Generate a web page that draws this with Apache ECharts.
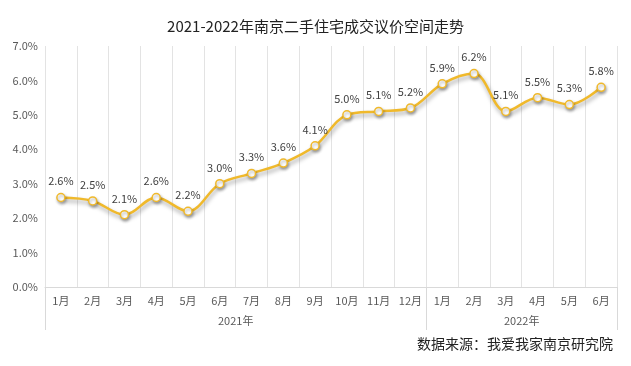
<!DOCTYPE html>
<html>
<head>
<meta charset="utf-8">
<script src="https://cdn.jsdelivr.net/npm/echarts@6/dist/echarts.min.js"></script>
<style>
html,body{margin:0;padding:0;background:#fff;}
#chart{width:631px;height:366px;}
</style>
</head>
<body>
<div id="chart"></div>
<script>
const titleText = '2021-2022年南京二手住宅成交议价空间走势';
const sourceText = '数据来源：我爱我家南京研究院';
const months = ['1月','2月','3月','4月','5月','6月','7月','8月','9月','10月','11月','12月','1月','2月','3月','4月','5月','6月'];
const values = [2.6, 2.5, 2.1, 2.6, 2.2, 3.0, 3.3, 3.6, 4.1, 5.0, 5.1, 5.2, 5.9, 6.2, 5.1, 5.5, 5.3, 5.8];
const years = ['2021年', '2022年'];
const yearSpans = [12, 6];
const yTicks = [0, 1, 2, 3, 4, 5, 6, 7];

// build the second-level (year) axis: boundary points 0..N
const N = months.length;
const yearAxisData = new Array(N + 1).fill('');
const boundaryIdx = [0];
const labelIdx = [];
let acc = 0;
yearSpans.forEach((s, i) => {
  const mid = acc + s / 2;
  yearAxisData[mid] = years[i];
  labelIdx.push(mid);
  acc += s;
  boundaryIdx.push(acc);
});

const FONT = '"Noto Sans CJK SC", "Noto Sans", sans-serif';
const lineColor = '#F0B92B';

const chart = echarts.init(document.getElementById('chart'), null, {renderer: 'canvas'});
chart.setOption({
  backgroundColor: '#ffffff',
  animation: false,
  textStyle: {fontFamily: FONT},
  title: [
    {
      text: titleText,
      left: 'center',
      top: 14,
      textStyle: {fontSize: 15, fontWeight: 'normal', color: '#222222', fontFamily: FONT}
    },
    {
      text: sourceText,
      right: 13,
      top: 332,
      textStyle: {fontSize: 14, fontWeight: 'normal', color: '#222222', fontFamily: FONT}
    }
  ],
  grid: {left: 45, right: 14, top: 46, bottom: 79, containLabel: false},
  xAxis: [
    {
      type: 'category',
      data: months,
      boundaryGap: true,
      position: 'bottom',
      axisLine: {show: true, lineStyle: {color: '#d9d9d9', width: 1}},
      axisTick: {show: false},
      splitLine: {show: true, lineStyle: {color: '#e3e3e3', width: 1}},
      axisLabel: {interval: 0, color: '#595959', fontSize: 11, margin: 8, fontFamily: FONT}
    },
    {
      type: 'category',
      data: yearAxisData,
      boundaryGap: false,
      position: 'bottom',
      axisLine: {show: false},
      axisTick: {
        show: true,
        length: 43,
        interval: (idx) => boundaryIdx.indexOf(idx) >= 0,
        lineStyle: {color: '#d9d9d9', width: 1}
      },
      splitLine: {show: false},
      axisLabel: {
        interval: (idx) => labelIdx.indexOf(idx) >= 0,
        color: '#595959',
        fontSize: 11,
        margin: 28,
        fontFamily: FONT
      }
    }
  ],
  yAxis: {
    type: 'value',
    min: yTicks[0],
    max: yTicks[yTicks.length - 1],
    interval: 1,
    axisLine: {show: false},
    axisTick: {show: false},
    splitLine: {show: false},
    axisLabel: {
      color: '#595959',
      fontSize: 11,
      margin: 7,
      fontFamily: FONT,
      formatter: (v) => v.toFixed(1) + '%'
    }
  },
  series: [{
    type: 'line',
    xAxisIndex: 0,
    data: values,
    smooth: 0.35,
    symbol: 'circle',
    symbolSize: 8,
    lineStyle: {
      color: lineColor,
      width: 2.5,
      shadowColor: 'rgba(0,0,0,0.35)',
      shadowBlur: 4,
      shadowOffsetX: 1,
      shadowOffsetY: 3
    },
    itemStyle: {
      color: '#ffffff',
      borderColor: lineColor,
      borderWidth: 1.5,
      shadowColor: 'rgba(0,0,0,0.3)',
      shadowBlur: 3,
      shadowOffsetX: 1,
      shadowOffsetY: 2
    },
    label: {
      show: true,
      position: 'top',
      distance: 6,
      color: '#404040',
      fontSize: 11,
      fontFamily: FONT,
      formatter: (p) => p.value.toFixed(1) + '%'
    }
  }]
});
</script>
</body>
</html>
